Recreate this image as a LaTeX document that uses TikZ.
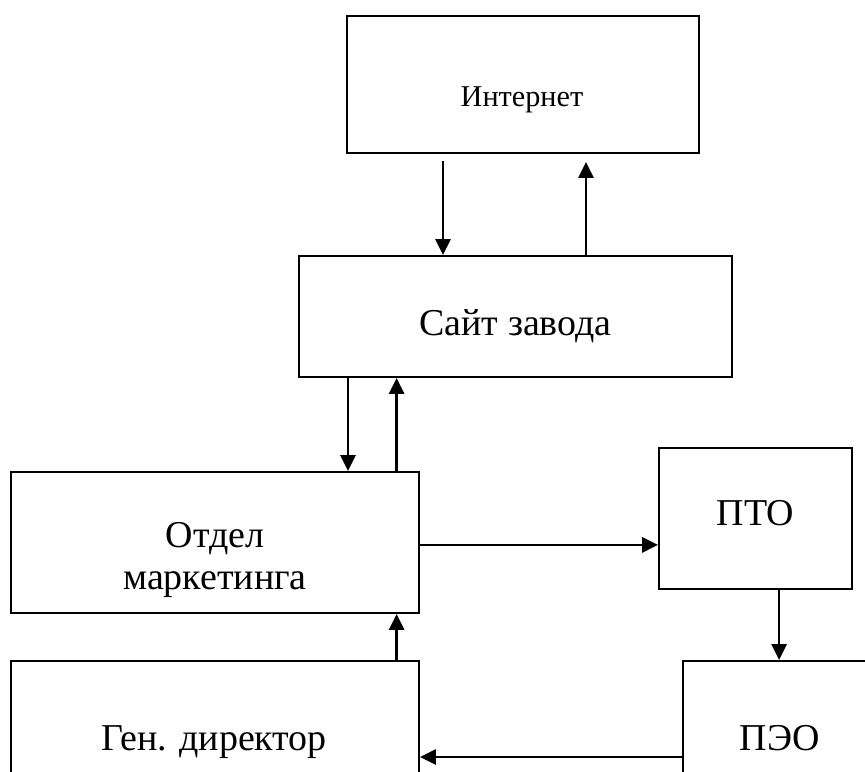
\documentclass[tikz,border=0pt]{standalone}
\usepackage{fontspec}
\setmainfont{Liberation Serif}
\usepackage{tikz}
\usetikzlibrary{arrows.meta,positioning,calc}

\tikzset{
  box/.style={draw, line width=1.4pt, inner sep=0pt},
  lbl/.style={inner sep=0pt, font=\fontsize{27}{30}\selectfont, align=center},
  arrow/.style={-{Triangle[length=0.4cm,width=0.38cm]}, line width=1.8pt}
}

\begin{document}
\begin{tikzpicture}
        \clip (0,0) rectangle (21.625,-19.275);
        % boxes
        \node[box, minimum width=8.8cm, minimum height=3.425cm] (inet) at (13.075,-2.1125) {};
        \node[box, minimum width=10.825cm, minimum height=3.025cm] (site) at (12.8875,-7.9125) {};
        \node[box, minimum width=10.2cm, minimum height=3.525cm] (mkt) at (5.375,-13.5625) {};
        \node[box, minimum width=4.825cm, minimum height=3.525cm] (pto) at (18.8875,-12.9625) {};
        \node[box, minimum width=4.85cm, minimum height=3.85cm] (peo) at (19.5,-18.45) {};
        \node[box, minimum width=10.2cm, minimum height=3.85cm] (gen) at (5.375,-18.45) {};
        % texts
        \node[lbl, anchor=base, font=\fontsize{21.5}{24}\selectfont] (inettext) at (13.05,-2.65) {Интернет};
        \node[lbl, anchor=base] (sitetext) at (12.8875,-8.375) {Сайт завода};
        \node[lbl, anchor=north] (mkttext) at (5.375,-13.05) {Отдел\\маркетинга};
        \node[lbl, anchor=base] (ptotext) at (18.8875,-13.125) {ПТО};
        \node[lbl, anchor=base] (peotext) at (19.5,-18.75) {ПЭО};
        \node[lbl, anchor=base] (gentext) at (5.35,-18.75) {Ген. директор};
        % links
        \draw[arrow] ([xshift=-2cm,yshift=-0.18cm]inet.south) -- ([xshift=-2cm]inet.south |- site.north);
        \draw[arrow] ([xshift=1.575cm]inet.south |- site.north) -- ([xshift=1.575cm,yshift=-0.2cm]inet.south);
        \draw[arrow] ([xshift=3.325cm]mkt.north |- site.south) -- ([xshift=3.325cm]mkt.north);
        \draw[arrow] ([xshift=4.54cm]mkt.north) -- ([xshift=4.54cm]mkt.north |- site.south);
        \draw[arrow] ([yshift=-0.06cm]mkt.east) -- ([yshift=-0.06cm]mkt.east -| pto.west);
        \draw[arrow] ([xshift=0.59cm]pto.south) -- ([xshift=0.59cm]pto.south |- peo.north);
        \draw[arrow] ([yshift=-0.475cm]peo.west) -- ([yshift=-0.475cm]peo.west -| gen.east);
        \draw[arrow] ([xshift=4.54cm]gen.north) -- ([xshift=4.54cm]gen.north |- mkt.south);
      \end{tikzpicture}
\end{document}
